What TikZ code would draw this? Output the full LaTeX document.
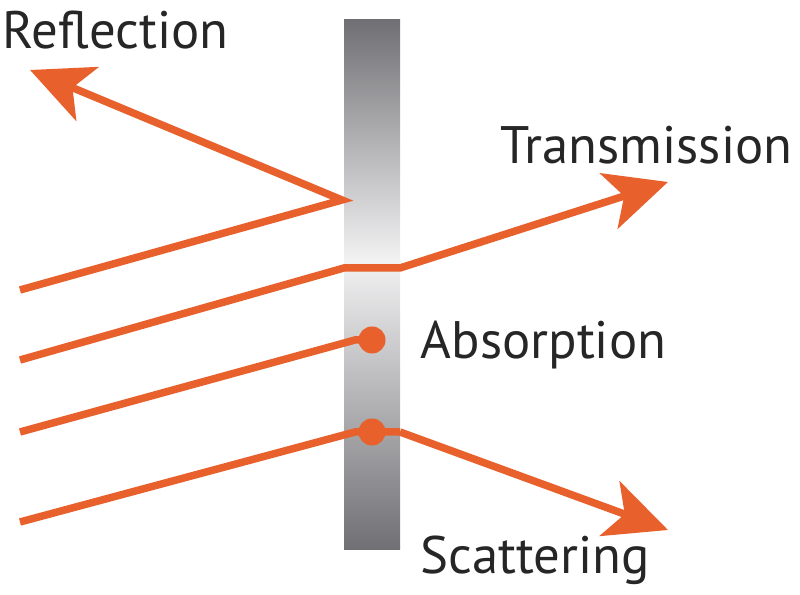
\documentclass[tikz,border=0pt]{standalone}
\usepackage{fontspec}
\setmainfont{PT Sans}
\usetikzlibrary{arrows.meta}
\definecolor{ray}{HTML}{E8602C}
\definecolor{slabdark}{HTML}{707074}
\definecolor{slablight}{HTML}{F2F2F3}
\begin{document}
\begin{tikzpicture}[x=0.01cm,y=-0.01cm,
  beam/.style={draw=ray,line width=0.075cm,line join=miter},
  tip/.style={-{Stealth[length=0.62cm,width=0.58cm,inset=0.16cm]}},
  dot/.style={circle,fill=ray,minimum size=0.27cm,inner sep=0pt},
  lbl/.style={font=\fontsize{15}{18}\selectfont,text=black!85,inner sep=0pt}]
\useasboundingbox (0,0) rectangle (800,595);
\shade[top color=slabdark,bottom color=slablight] (344,20) rectangle (400,260);
\shade[top color=slablight,bottom color=slabdark] (344,260) rectangle (400,550);
\coordinate (r0) at (20,290); \coordinate (r1) at (342,200); \coordinate (r2) at (30,70);
\coordinate (t0) at (20,360); \coordinate (t1) at (344,268); \coordinate (t2) at (400,268); \coordinate (t3) at (668,182);
\coordinate (a0) at (20,432); \coordinate (a1) at (355,340);
\coordinate (s0) at (20,522); \coordinate (s1) at (355,432); \coordinate (s2) at (400,432); \coordinate (s3) at (668,530);
\node[dot] (ad) at (372,340) {};
\node[dot] (sd) at (372,432) {};
\draw[beam,tip] (r0) -- (r1) -- (r2);
\draw[beam,tip] (t0) -- (t1) -- (t2) -- (t3);
\draw[beam] (a0) -- (a1) -- (ad.center);
\draw[beam] (s0) -- (s1) -- (s2);
\draw[beam,tip] (s2) -- (s3);
\node[lbl,anchor=west] (lr) at (2,30) {Reflection};
\node[lbl,anchor=west] (lt) at (500,145) {Transmission};
\node[lbl,anchor=west] (la) at (420,345) {Absorption};
\node[lbl,anchor=west] (ls) at (420,560) {Scattering};
\end{tikzpicture}
\end{document}
